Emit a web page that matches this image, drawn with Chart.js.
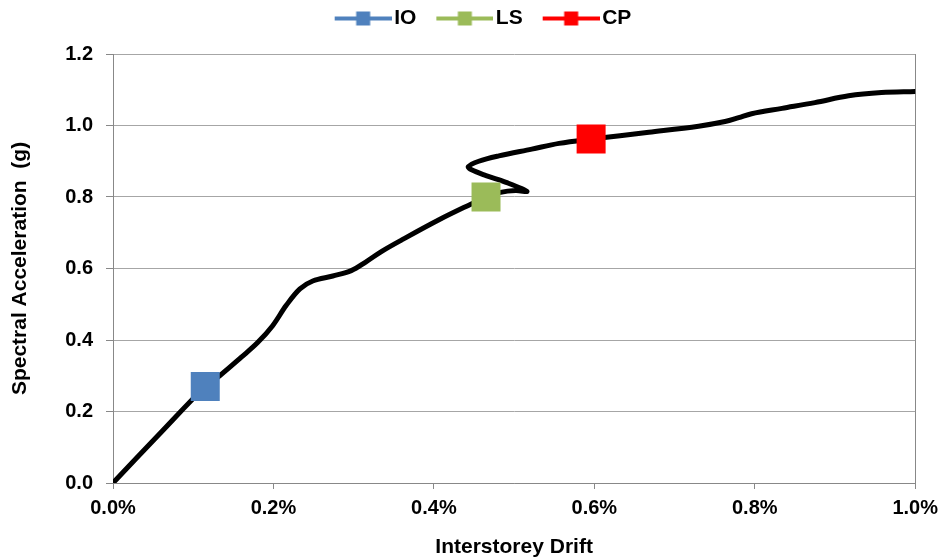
<!DOCTYPE html>
<html>
<head>
<meta charset="utf-8">
<script src="https://cdn.jsdelivr.net/npm/chart.js@4.4.1/dist/chart.umd.min.js"></script>
<style>
  html, body { margin: 0; padding: 0; background: #ffffff; }
  #wrap { width: 945px; height: 560px; }
</style>
</head>
<body>
<div id="wrap"><canvas id="chart"></canvas></div>
<script>
// Pushover capacity curve: interstorey drift (%) vs spectral acceleration (g)
const driftPct = [0, 0.057, 0.115, 0.133, 0.160, 0.180, 0.199, 0.216, 0.233, 0.249, 0.274, 0.297,
                  0.315, 0.335, 0.360, 0.407, 0.446, 0.465, 0.483, 0.502, 0.516, 0.490, 0.465,
                  0.447, 0.443, 0.456, 0.481, 0.522, 0.556, 0.596, 0.668, 0.730, 0.763, 0.780,
                  0.796, 0.834, 0.875, 0.917, 0.958, 1.000];
const saG = [0, 0.135, 0.270, 0.300, 0.352, 0.392, 0.440, 0.497, 0.543, 0.565, 0.579, 0.594,
             0.618, 0.648, 0.680, 0.737, 0.780, 0.800, 0.813, 0.818, 0.816, 0.841, 0.860,
             0.876, 0.885, 0.900, 0.915, 0.934, 0.950, 0.962, 0.981, 0.998, 1.011, 1.022,
             1.033, 1.048, 1.064, 1.083, 1.092, 1.095];

// Performance levels
const levelNames = ['IO', 'LS', 'CP'];
const levelDrift = [0.115, 0.465, 0.596];
const levelSa = [0.27, 0.80, 0.962];
const levelColors = ['#4F81BD', '#9BBB59', '#FF0000'];

// Axis ticks
const xTicks = [0, 0.2, 0.4, 0.6, 0.8, 1.0];
const yTicks = [0, 0.2, 0.4, 0.6, 0.8, 1.0, 1.2];

const FONT = "'Liberation Sans', Arial, sans-serif";

// Legend swatch: a short line with a square marker in the middle
function legendSwatch(color) {
  const c = document.createElement('canvas');
  c.width = 81; c.height = 16;
  const g = c.getContext('2d');
  g.fillStyle = color;
  g.fillRect(24, 6, 57, 4);
  g.fillRect(45.5, 1, 14, 14);
  return c;
}
const swatches = levelColors.map(legendSwatch);

// Extra room under the legend and a small horizontal nudge of its items
const legendSpacing = {
  id: 'legendSpacing',
  beforeInit(chart) {
    const legend = chart.legend;
    if (!legend) return;
    const fit = legend.fit;
    legend.fit = function () {
      fit.call(this);
      this.height += 15;
    };
  },
  afterLayout(chart) {
    if (chart.legend) {
      chart.legend.left += 17;
      chart.legend.right += 17;
    }
  }
};

const levelSets = levelNames.map((name, i) => ({
  label: name,
  data: [{ x: levelDrift[i], y: levelSa[i] }],
  showLine: false,
  pointStyle: 'rect',
  pointRadius: 20.5,
  pointHoverRadius: 20.5,
  pointBorderWidth: 0,
  backgroundColor: levelColors[i],
  borderColor: levelColors[i]
}));

const curveSet = {
  label: 'curve',
  data: driftPct.map((d, i) => ({ x: d, y: saG[i] })),
  showLine: true,
  borderColor: '#000000',
  borderWidth: 5,
  borderCapStyle: 'round',
  borderJoinStyle: 'round',
  pointRadius: 0,
  pointHoverRadius: 0,
  tension: 0.35,
  fill: false
};

new Chart(document.getElementById('chart'), {
  type: 'scatter',
  data: { datasets: [...levelSets, curveSet] },
  plugins: [legendSpacing],
  options: {
    responsive: true,
    maintainAspectRatio: false,
    animation: false,
    events: [],
    layout: { padding: { top: 4, right: 29, bottom: 0, left: 0 } },
    plugins: {
      tooltip: { enabled: false },
      legend: {
        position: 'top',
        align: 'center',
        labels: {
          usePointStyle: true,
          pointStyleWidth: 65,
          boxHeight: 16,
          padding: 4,
          color: '#000000',
          font: { family: FONT, size: 21, weight: 'bold' },
          filter: item => item.datasetIndex < levelNames.length,
          generateLabels: chart => {
            const items = Chart.defaults.plugins.legend.labels.generateLabels(chart);
            items.forEach(it => {
              if (it.datasetIndex < swatches.length) it.pointStyle = swatches[it.datasetIndex];
            });
            return items;
          }
        }
      }
    },
    scales: {
      x: {
        type: 'linear',
        position: 'bottom',
        min: 0,
        max: 1.0,
        afterBuildTicks: s => { s.ticks = xTicks.map(v => ({ value: v })); },
        afterFit: s => { s.height = 77; },
        ticks: {
          callback: v => Number(v).toFixed(1) + '%',
          color: '#000000',
          font: { family: FONT, size: 20, weight: 'bold' },
          padding: 7,
          maxRotation: 0,
          autoSkip: false
        },
        grid: {
          drawOnChartArea: true,
          color: ctx => (ctx.tick && ctx.tick.value === xTicks[xTicks.length - 1]) ? '#888888' : 'rgba(0,0,0,0)',
          tickColor: '#888888',
          tickLength: 6,
          lineWidth: 1
        },
        border: { color: '#888888', width: 1 },
        title: {
          display: true,
          text: 'Interstorey Drift',
          color: '#000000',
          font: { family: FONT, size: 21, weight: 'bold' },
          padding: { top: 0, bottom: 0 }
        }
      },
      y: {
        type: 'linear',
        min: 0,
        max: 1.2,
        afterBuildTicks: s => { s.ticks = yTicks.map(v => ({ value: v })); },
        afterFit: s => { s.width = 113; },
        ticks: {
          callback: v => Number(v).toFixed(1),
          color: '#000000',
          font: { family: FONT, size: 20, weight: 'bold' },
          padding: 13
        },
        grid: {
          color: '#A6A6A6',
          tickColor: '#888888',
          tickLength: 7,
          lineWidth: 1
        },
        border: { color: '#888888', width: 1 },
        title: {
          display: true,
          text: 'Spectral Acceleration  (g)',
          color: '#000000',
          font: { family: FONT, size: 21, weight: 'bold' },
          padding: { top: 8, bottom: 0 }
        }
      }
    }
  }
});
</script>
</body>
</html>
